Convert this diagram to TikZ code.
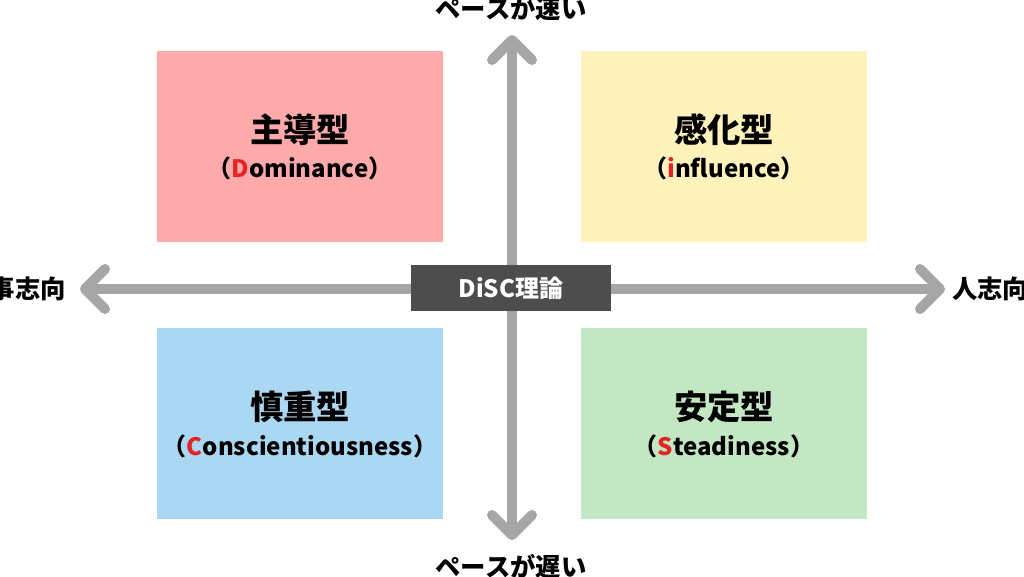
\documentclass[tikz,border=0pt]{standalone}
\usepackage{fontspec}
\setmainfont{Noto Sans CJK JP}
\usepackage{tikz}
\usetikzlibrary{arrows.meta}
\definecolor{dpink}{RGB}{255,170,170}
\definecolor{iyellow}{RGB}{255,242,187}
\definecolor{sgreen}{RGB}{195,230,195}
\definecolor{cblue}{RGB}{170,215,242}
\definecolor{axisgray}{RGB}{166,166,166}
\definecolor{darkgray}{RGB}{77,77,77}
\definecolor{keyred}{RGB}{228,36,36}
\tikzstyle{quad} = [rectangle, minimum width=214.5pt, minimum height=143.25pt, inner sep=0pt]
\tikzstyle{title} = [font=\bfseries\fontsize{25}{30}\selectfont, inner sep=0pt]
\tikzstyle{sub} = [font=\bfseries\fontsize{18}{22}\selectfont, inner sep=0pt]
\tikzstyle{axislabel} = [font=\bfseries\fontsize{19}{23}\selectfont, inner sep=0pt]
\tikzstyle{arrow} = [line width=7.5pt, draw=axisgray, {Straight Barb[length=15pt, width=30pt, round]}-{Straight Barb[length=15pt, width=30pt, round]}]
\newcommand{\key}[1]{\textcolor{keyred}{#1}}

\begin{document}
\begin{tikzpicture}[x=0.75pt, y=-0.75pt]
\useasboundingbox (0,0) rectangle (1024,576);
% Quadrants
\node (dom) [quad, fill=dpink] at (300,146.5) {};
\node (inf) [quad, fill=iyellow] at (724,146.5) {};
\node (con) [quad, fill=cblue] at (300,423.5) {};
\node (ste) [quad, fill=sgreen] at (724,423.5) {};
\node [title] at (300,130) {主導型};
\node [sub] at (300,168) {（\key{D}ominance）};
\node [title] at (724,130) {感化型};
\node [sub] at (724,168) {（\key{i}nfluence）};
\node [title] at (300,407) {慎重型};
\node [sub] at (300,446) {（\key{C}onscientiousness）};
\node [title] at (724,407) {安定型};
\node [sub] at (724,446) {（\key{S}teadiness）};

% Axes
\coordinate (up) at (512,35);
\coordinate (down) at (512,540);
\coordinate (left) at (80,289);
\coordinate (right) at (945,289);
\draw [arrow] (down) -- (up);
\draw [arrow] (left) -- (right);
\node (fast) [axislabel] at (511,8) {ペースが速い};
\node (slow) [axislabel] at (511,566) {ペースが遅い};
\node (task) [axislabel, anchor=east] at (66,289) {事志向};
\node (people) [axislabel, anchor=west] at (952,289) {人志向};

% Center
\node (disc) [rectangle, fill=darkgray, text=white, minimum width=150pt, minimum height=34.5pt, font=\bfseries\fontsize{18}{22}\selectfont] at (511,288) {DiSC理論};
\end{tikzpicture}
\end{document}
